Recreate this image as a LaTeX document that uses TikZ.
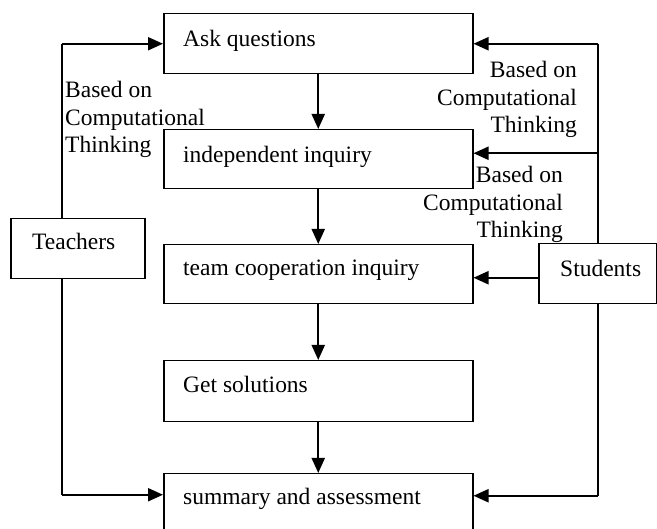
\documentclass[tikz,border=0pt]{standalone}
\usepackage{fontspec}
\setmainfont{Liberation Serif}
\usetikzlibrary{arrows.meta}
\begin{document}
\begin{tikzpicture}[x=1pt,y=-1pt,
  box/.style={draw,line width=1.5pt,rectangle,inner sep=0pt,anchor=north west},
  txt/.style={inner sep=0pt,anchor=base west,font=\fontsize{23.5}{27.5}\selectfont},
  lbl/.style={inner sep=0pt,font=\fontsize{23.5}{27.5}\selectfont},
  arr/.style={line width=2pt,-{Triangle[length=15pt,width=13pt]}},
  feed/.style={line width=1.5pt}]
\useasboundingbox (0,0) rectangle (657,529);
\clip (0,0) rectangle (657,529);
% boxes
\node[box,minimum width=309pt,minimum height=60pt] (ask) at (163,13) {};
\node[box,minimum width=309pt,minimum height=59pt] (ind) at (163,129) {};
\node[box,minimum width=309pt,minimum height=59pt] (team) at (163,244) {};
\node[box,minimum width=309pt,minimum height=61pt] (get) at (163,360) {};
\node[box,minimum width=309pt,minimum height=72pt] (summ) at (163,473) {};
\node[box,minimum width=134pt,minimum height=60pt] (teach) at (10,218) {};
\node[box,minimum width=118pt,minimum height=60pt] (stud) at (538,243) {};
% box texts
\node[txt] (tAsk) at (183,47) {Ask questions};
\node[txt] (tInd) at (183,163) {independent inquiry};
\node[txt] (tTeam) at (183,276) {team cooperation inquiry};
\node[txt] (tGet) at (183,393) {Get solutions};
\node[txt] (tSumm) at (183,505) {summary and assessment};
\node[txt] (tTeach) at (32,250) {Teachers};
\node[txt] (tStud) at (560,277) {Students};
% labels
\node[lbl,anchor=north west,align=left] (lL) at (65,81) {Based on\\Computational\\Thinking};
\node[lbl,anchor=north east,align=right] (lR1) at (577,61) {Based on\\Computational\\Thinking};
\node[lbl,anchor=north east,align=right] (lR2) at (563,166) {Based on\\Computational\\Thinking};
% main flow
\draw[arr] (ask.south) -- (ind.north);
\draw[arr] (ind.south) -- (team.north);
\draw[arr] (team.south) -- (get.north);
\draw[arr] (get.south) -- (summ.north);
% teachers
\draw[feed] ([xshift=-16pt]teach.north) -- ([xshift=-16pt]teach.north |- ask.west);
\draw[arr] ([xshift=-16pt]teach.north |- ask.west) -- (ask.west);
\draw[feed] ([xshift=-16pt]teach.south) -- ([xshift=-16pt,yshift=15pt]teach.south |- summ.west);
\draw[arr] ([xshift=-16pt,yshift=15pt]teach.south |- summ.west) -- ([yshift=15pt]summ.west);
% students
\draw[feed] (stud.north) -- (stud.north |- ask.east);
\draw[arr] (stud.north |- ask.east) -- (ask.east);
\draw[arr] ([yshift=6pt]stud.north |- ind.east) -- ([yshift=6pt]ind.east);
\draw[arr] ([yshift=-4pt]stud.west) -- ([yshift=-4pt]stud.west -| team.east);
\draw[feed] (stud.south) -- ([yshift=14pt]stud.south |- summ.east);
\draw[arr] ([yshift=14pt]stud.south |- summ.east) -- ([yshift=14pt]summ.east);
\end{tikzpicture}
\end{document}
